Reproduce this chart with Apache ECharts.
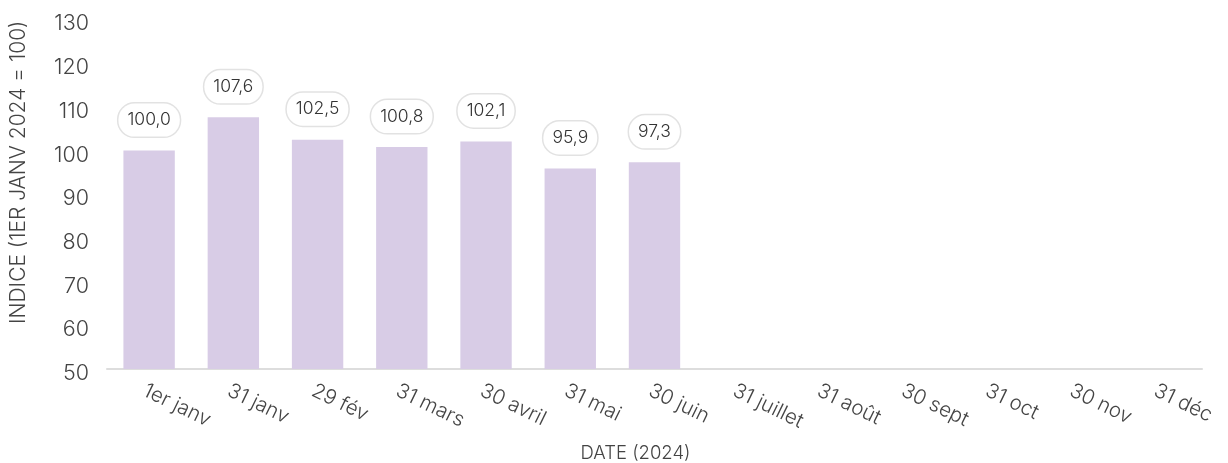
<!DOCTYPE html>
<html>
<head>
<meta charset="utf-8">
<script src="https://cdn.jsdelivr.net/npm/echarts@6/dist/echarts.min.js"></script>
<style>
html,body{margin:0;padding:0;background:#fff;}
#c{width:1228px;height:463px;}
</style>
</head>
<body>
<div id="c"></div>
<script>
const categories = ['1er janv','31 janv','29 fév','31 mars','30 avril','31 mai','30 juin','31 juillet','31 août','30 sept','31 oct','30 nov','31 déc'];
const values = [100.0, 107.6, 102.5, 100.8, 102.1, 95.9, 97.3, null, null, null, null, null, null];
const yTicks = [50, 60, 70, 80, 90, 100, 110, 120, 130];
const yName = 'INDICE (1ER JANV 2024 = 100)';
const xName = 'DATE (2024)';

const font = 'Inter, Roboto, Liberation Sans, Arial, sans-serif';
const fw = 300;
const chart = echarts.init(document.getElementById('c'));
chart.setOption({
  animation: false,
  grid: {left: 107, right: 26, top: 19.5, bottom: 94, containLabel: false, outerBoundsMode: 'none'},
  xAxis: {
    type: 'category',
    data: categories,
    axisLine: {lineStyle: {color: '#dddddd', width: 2}},
    axisTick: {show: false},
    axisLabel: {rotate: -26, color: '#444', fontSize: 20.5, fontWeight: fw, fontFamily: font, margin: 11, interval: 0, verticalAlign: 'top'},
    name: xName,
    nameLocation: 'middle',
    nameGap: 75,
    nameTextStyle: {color: '#444', fontSize: 18.5, fontWeight: fw, fontFamily: font, padding: [0, 38, 0, 0]}
  },
  yAxis: {
    type: 'value',
    min: yTicks[0],
    max: yTicks[yTicks.length - 1],
    interval: 10,
    axisLine: {show: false},
    axisTick: {show: false},
    splitLine: {show: false},
    axisLabel: {color: '#444', fontSize: 21.5, fontWeight: fw, fontFamily: font, margin: 18, verticalAlign: 'top', lineHeight: 9},
    name: yName,
    nameLocation: 'middle',
    nameGap: 78,
    nameTextStyle: {color: '#444', fontSize: 21, fontWeight: fw, fontFamily: font, padding: [0, 0, 0, 44]}
  },
  series: [{
    type: 'bar',
    data: values,
    barWidth: '61%',
    itemStyle: {color: '#d8cce6'},
    label: {
      show: true,
      position: 'top',
      distance: 14,
      formatter: p => p.value == null ? '' : p.value.toFixed(1).replace('.', ','),
      color: '#333',
      fontSize: 17.5,
      fontWeight: fw,
      fontFamily: font,
      lineHeight: 21,
      backgroundColor: '#fff',
      borderColor: '#e2e2e2',
      borderWidth: 1.5,
      borderRadius: 16,
      padding: [6, 9, 6, 9]
    }
  }]
});
</script>
</body>
</html>
